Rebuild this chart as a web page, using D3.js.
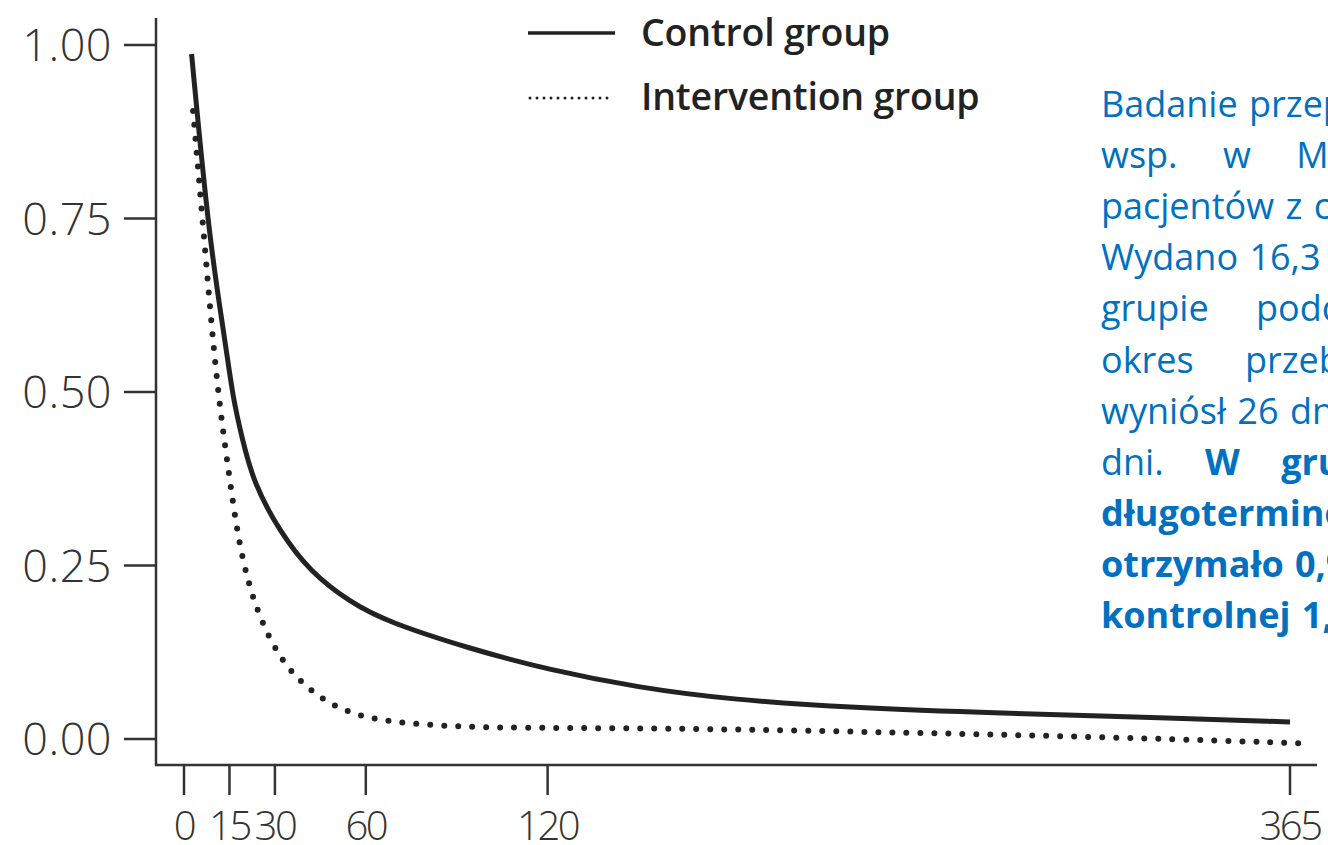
<!DOCTYPE html>
<html><head><meta charset="utf-8">
<script src="https://cdn.jsdelivr.net/npm/d3@7/dist/d3.min.js"></script>
<style>html,body{margin:0;padding:0;background:#fff;overflow:hidden}</style>
</head><body>
<svg id="chart" width="1328" height="845"></svg>
<script>
// ---- data ----
const xTicks = [0, 15, 30, 60, 120, 365];
const yTicks = [0, 0.25, 0.5, 0.75, 1.0];
const controlDays = [2.5, 8.3, 13.5, 16.2, 19, 22.8, 31.7, 41.6, 54.8, 67, 94.4, 120, 150, 180, 220, 270, 320, 365];
const controlVals = [0.987, 0.72, 0.576, 0.49, 0.437, 0.37, 0.298, 0.241, 0.197, 0.169, 0.13, 0.10, 0.074, 0.057, 0.045, 0.037, 0.031, 0.0245];
const interDays   = [3, 3.6, 7.5, 9.5, 11.9, 14.5, 17.5, 20.8, 25.1, 31.7, 40.6, 52.5, 67, 91, 120, 170, 240, 302, 368];
const interVals   = [0.905, 0.875, 0.677, 0.576, 0.475, 0.393, 0.298, 0.231, 0.173, 0.115, 0.072, 0.039, 0.0245, 0.017, 0.016, 0.015, 0.009, 0.003, -0.006];
const legendLabels = ["Control group", "Intervention group"];
const noteLines = [
  {words: ["Badanie", "przeprowadzone"], bold: [0,0]},
  {words: ["wsp.", "w", "Maine"], bold: [0,0,0]},
  {words: ["pacjentów", "z", "chorobą"], bold: [0,0,0]},
  {words: ["Wydano", "16,3"], bold: [0,0]},
  {words: ["grupie", "podczas"], bold: [0,0]},
  {words: ["okres", "przebywania"], bold: [0,0]},
  {words: ["wyniósł", "26", "dni"], bold: [0,0,0]},
  {words: ["dni.", "W", "grupie"], bold: [0,1,1]},
  {words: ["długoterminowej"], bold: [1]},
  {words: ["otrzymało", "0,9"], bold: [1,1]},
  {words: ["kontrolnej", "1,3"], bold: [1,1]}
];
// per-line extra word spacing (justified paragraph)
const noteSpacing = [2, 36, 2, 2, 38, 42, 2, 32, 0, 2, 2];

// ---- layout ----
const svg = d3.select("#chart");
const x = d3.scaleLinear().domain([0, 365]).range([184, 1290]);
const y = d3.scaleLinear().domain([0, 1]).range([739, 45]);
const axisColor = "#333";
const font = "'Open Sans', sans-serif";

// axis lines
svg.append("line").attr("x1", 156).attr("x2", 156).attr("y1", 18).attr("y2", 765)
  .attr("stroke", axisColor).attr("stroke-width", 2.5);
svg.append("line").attr("x1", 155).attr("x2", 1317).attr("y1", 765).attr("y2", 765)
  .attr("stroke", axisColor).attr("stroke-width", 2.5);

// y ticks
const yg = svg.append("g");
yTicks.forEach(t => {
  yg.append("line").attr("x1", 124).attr("x2", 156).attr("y1", y(t)).attr("y2", y(t))
    .attr("stroke", axisColor).attr("stroke-width", 2.5);
  yg.append("text").attr("x", 112).attr("y", y(t)).attr("dy", "0.36em")
    .attr("text-anchor", "end").attr("font-family", font).attr("font-weight", 300)
    .attr("font-size", 45).attr("fill", "#333").attr("letter-spacing", 0.5)
    .text(d3.format(".2f")(t));
});
// x ticks
const xg = svg.append("g");
xTicks.forEach(t => {
  xg.append("line").attr("x1", x(t)).attr("x2", x(t)).attr("y1", 765).attr("y2", 795)
    .attr("stroke", axisColor).attr("stroke-width", 2.5);
  xg.append("text").attr("x", x(t)).attr("y", 840)
    .attr("text-anchor", "middle").attr("font-family", font).attr("font-weight", 300)
    .attr("font-size", 40).attr("fill", "#333").attr("letter-spacing", -2.5)
    .text(t);
});

// lines
const line = d3.line().x(d => x(d[0])).y(d => y(d[1])).curve(d3.curveBasis);
const control = controlDays.map((d, i) => [d, controlVals[i]]);
const inter = interDays.map((d, i) => [d, interVals[i]]);
svg.append("path").attr("d", line(inter)).attr("fill", "none")
  .attr("stroke", "#222").attr("stroke-width", 6).attr("stroke-linecap", "round")
  .attr("stroke-dasharray", "0 14");
svg.append("path").attr("d", line(control)).attr("fill", "none")
  .attr("stroke", "#222").attr("stroke-width", 5).attr("stroke-linecap", "butt");

// legend
const lg = svg.append("g");
lg.append("line").attr("x1", 528).attr("x2", 615).attr("y1", 33).attr("y2", 33)
  .attr("stroke", "#222").attr("stroke-width", 3.5);
lg.append("line").attr("x1", 530).attr("x2", 614).attr("y1", 98).attr("y2", 98)
  .attr("stroke", "#222").attr("stroke-width", 3).attr("stroke-linecap", "round")
  .attr("stroke-dasharray", "0 7");
legendLabels.forEach((l, i) => {
  lg.append("text").attr("x", 641).attr("y", [46, 110][i])
    .attr("font-family", font).attr("font-weight", 600).attr("font-size", 37.5)
    .attr("fill", "#222").attr("letter-spacing", -0.2).text(l);
});

// note text
const ng = svg.append("g").attr("font-family", font).attr("font-size", 36)
  .attr("fill", "#0070C0");
noteLines.forEach((ln, i) => {
  const t = ng.append("text").attr("x", 1101).attr("y", 117 + i * 51.1)
    .attr("word-spacing", noteSpacing[i]);
  ln.words.forEach((w, j) => {
    t.append("tspan").attr("font-weight", ln.bold[j] ? 700 : 400).text((j ? " " : "") + w);
  });
});
</script>
</body></html>
